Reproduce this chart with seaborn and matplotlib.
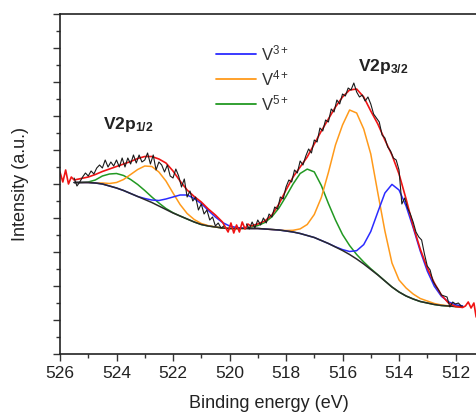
import numpy as np
import matplotlib
matplotlib.use("Agg")
import matplotlib.pyplot as plt
import seaborn as sns
from matplotlib.lines import Line2D
from matplotlib.ticker import MultipleLocator

# ── Data (intensity in a.u.) ────────────────────────────────────────────────
# fitted curves sampled every 0.25 eV from 525.5 eV down to 511.75 eV
fit_start, fit_step = 525.5, 0.25

background = [171.5, 171.5, 171.5, 171, 170, 168, 166, 163.5, 160.5, 157.5,
              154.5, 151.5, 148, 144.5, 141, 138, 135, 132, 129.5, 128,
              127, 126, 125.5, 125.5, 125.5, 125.5, 125.5, 125, 124.5, 124,
              123, 122, 120.5, 118.5, 116.5, 113.5, 110.5, 107, 103.5, 99.5,
              95, 90, 84.5, 79, 73, 67, 62, 58, 55, 52.5,
              51, 49.5, 48.5, 48, 47.5, 47.5]

v5_plus = [171.5, 171.5, 172, 174, 178, 180, 180.5, 178.5, 174.5, 169.5,
           163.5, 157, 151, 145.5, 141.3, 138, 135, 132, 129.5, 128,
           127, 126, 125.5, 125.5, 125.9, 126.7, 128.4, 131.5, 137.2, 146,
           157.6, 170, 180.5, 184.9, 182.1, 168.5, 150.5, 134, 119.5, 108.5,
           99.5, 92, 85.3, 79.3, 73.1, 67, 62, 58, 55, 52.5,
           51, 49.5, 48.5, 48, 47.5, 47.5]

v4_plus = [171.5, 171.5, 171.5, 171, 171, 170.5, 171.5, 174.5, 179.5, 184.5,
           188, 187.5, 182, 173, 161, 149.5, 140.5, 134.5, 130.5, 128.3,
           127, 126, 125.5, 125.5, 125.5, 125.5, 125.5, 125, 124.5, 124,
           123.5, 123.7, 125.1, 129.5, 139.5, 156.5, 181.5, 209, 229, 244,
           241, 225, 200, 161, 123, 91, 74, 66, 60, 55.5,
           53, 50.5, 49, 48.2, 47.5, 47.5]

v3_plus = [171.5, 171.5, 171.5, 171, 170, 168, 166, 163.5, 160.5, 157.5,
           155.5, 154, 153.5, 155, 157, 159, 159, 155.5, 150.5, 143.5,
           137, 131.5, 128, 126.5, 125.8, 125.5, 125.5, 125, 124.5, 124,
           123, 122, 120.5, 118.5, 116.5, 113.5, 110.5, 107.2, 104.4, 102.5,
           103.3, 109.4, 122.5, 142, 161, 169.6, 164, 148, 126.4, 103.1,
           83, 67.7, 57.7, 52.2, 49.2, 48.1]

# envelope (red); None where the envelope follows the noisy data instead
envelope = [174, 175.5, 177, 179.5, 182.5, 185, 187.5, 190, 192.5, 195.5,
            197.5, 197.5, 195, 191, 183, 173, 164, 157.5, 152, 145,
            139, 132, None, None, None, 128, 130, 133, 139, 150,
            164, 177, 187, 197, 210, 223, 235, 247, 257, 264,
            265, 257, 243, 230, 214, 199, 180, 155, 128, 105,
            86, 71, 59, 51, 47.5, 46.5]

envelope_noise_be = [526.0, 525.9, 525.8, 525.7, 525.6,
                     520.15, 520.05, 519.95, 519.85, 519.75, 519.65, 519.55, 519.45, 519.35,
                     511.65, 511.55, 511.45, 511.35, 511.27]
envelope_noise = [182, 172, 184, 170, 177,
                  127, 122, 131, 121, 129, 122, 132, 125, 130,
                  48, 52, 46, 51, 37]

# measured spectrum, every 0.1 eV, two windows
raw_a_start = 525.5
raw_a = [176, 168, 172, 177, 181, 178, 183, 180, 186, 189,
         186, 194, 187, 192, 188, 194, 187, 196, 187, 196,
         190, 199, 191, 199, 192, 194, 201, 190, 199, 184,
         192, 189, 182, 189, 178, 176, 185, 178, 167, 175,
         157, 163, 153, 157, 144, 150, 140, 144, 134, 137,
         128, 131, 126, 128]
raw_b_start = 519.4
raw_b = [130, 125, 132, 126, 134, 129, 136, 131, 140, 137,
         147, 145, 157, 155, 167, 174, 172, 184, 181, 193,
         189, 198, 205, 201, 214, 212, 226, 223, 234, 232,
         245, 242, 254, 250, 260, 258, 266, 264, 271, 262,
         257, 259, 253, 257, 250, 240, 236, 232, 219, 216,
         207, 203, 196, 194, 184, 150, 156, 146, 140, 132,
         122, 117, 114, 100, 88, 84, 73, 68, 64, 59,
         58, 57, 47, 52, 50, 51, 48]

states = ["V$^{3+}$", "V$^{4+}$", "V$^{5+}$"]
state_colors = ["#2b2bff", "#ff9a1a", "#229922"]
peak_labels = ["V2p$_{1/2}$", "V2p$_{3/2}$"]

# ── Build x positions ─────────────────────────────────────────────────────
fit_be = fit_start - fit_step * np.arange(len(background))
raw_a_be = raw_a_start - 0.1 * np.arange(len(raw_a))
raw_b_be = raw_b_start - 0.1 * np.arange(len(raw_b))

env = np.array([np.nan if v is None else v for v in envelope], dtype=float)
env_be = np.concatenate([fit_be[~np.isnan(env)], envelope_noise_be])
env_int = np.concatenate([env[~np.isnan(env)], envelope_noise])
order = np.argsort(-env_be)
env_be, env_int = env_be[order], env_int[order]

# ── Plot ──────────────────────────────────────────────────────────────────
sns.set_style("ticks")
plt.rcParams["font.family"] = ["Liberation Sans", "DejaVu Sans"]
plt.rcParams["mathtext.default"] = "regular"

fig = plt.figure(figsize=(4.77, 4.12), dpi=100)
ax = fig.add_axes([60 / 477, 58 / 412, 417 / 477, 340 / 412])

for vals, col in zip([v5_plus, v4_plus, v3_plus], state_colors[::-1]):
    sns.lineplot(x=fit_be, y=vals, ax=ax, color=col, linewidth=1.1, sort=False)
sns.lineplot(x=fit_be, y=background, ax=ax, color="#2a2a2a", linewidth=1.1, sort=False)
sns.lineplot(x=env_be, y=env_int, ax=ax, color="#f01414", linewidth=1.2, sort=False)
sns.lineplot(x=raw_a_be, y=raw_a, ax=ax, color="#1a1a1a", linewidth=0.8, sort=False)
sns.lineplot(x=raw_b_be, y=raw_b, ax=ax, color="#1a1a1a", linewidth=0.8, sort=False)

ax.set_xlim(526, 511.24)
ax.set_ylim(0, 340)
ax.xaxis.set_major_locator(MultipleLocator(2))
ax.xaxis.set_minor_locator(MultipleLocator(1))
ax.yaxis.set_major_locator(MultipleLocator(34))
ax.yaxis.set_minor_locator(MultipleLocator(17))
ax.set_yticklabels([])
ax.tick_params(which="major", length=5, width=1.0, color="#333333",
               labelsize=12.5, labelcolor="#222222", pad=4)
ax.tick_params(which="minor", length=3, width=1.0, color="#333333")
ax.spines["right"].set_visible(False)
for s in ["left", "bottom", "top"]:
    ax.spines[s].set_linewidth(1.2)
    ax.spines[s].set_color("#222222")

ax.set_xlabel("Binding energy (eV)", fontsize=13, color="#222222", labelpad=10)
ax.set_ylabel("Intensity (a.u.)", fontsize=13, color="#222222", labelpad=13)

ax.text(523.6, 230, peak_labels[0], fontsize=12.5, fontweight="bold",
        ha="center", va="center", color="#222222")
ax.text(514.55, 287, peak_labels[1], fontsize=12.5, fontweight="bold",
        ha="center", va="center", color="#222222")

handles = [Line2D([], [], color=c, linewidth=1.3) for c in state_colors]
ax.legend(handles, states, loc="upper left", bbox_to_anchor=(0.338, 0.958),
          frameon=False, fontsize=12, handlelength=2.4, handletextpad=0.3,
          labelspacing=0.3, labelcolor="#333333")

fig.savefig("out.png", dpi=100)
